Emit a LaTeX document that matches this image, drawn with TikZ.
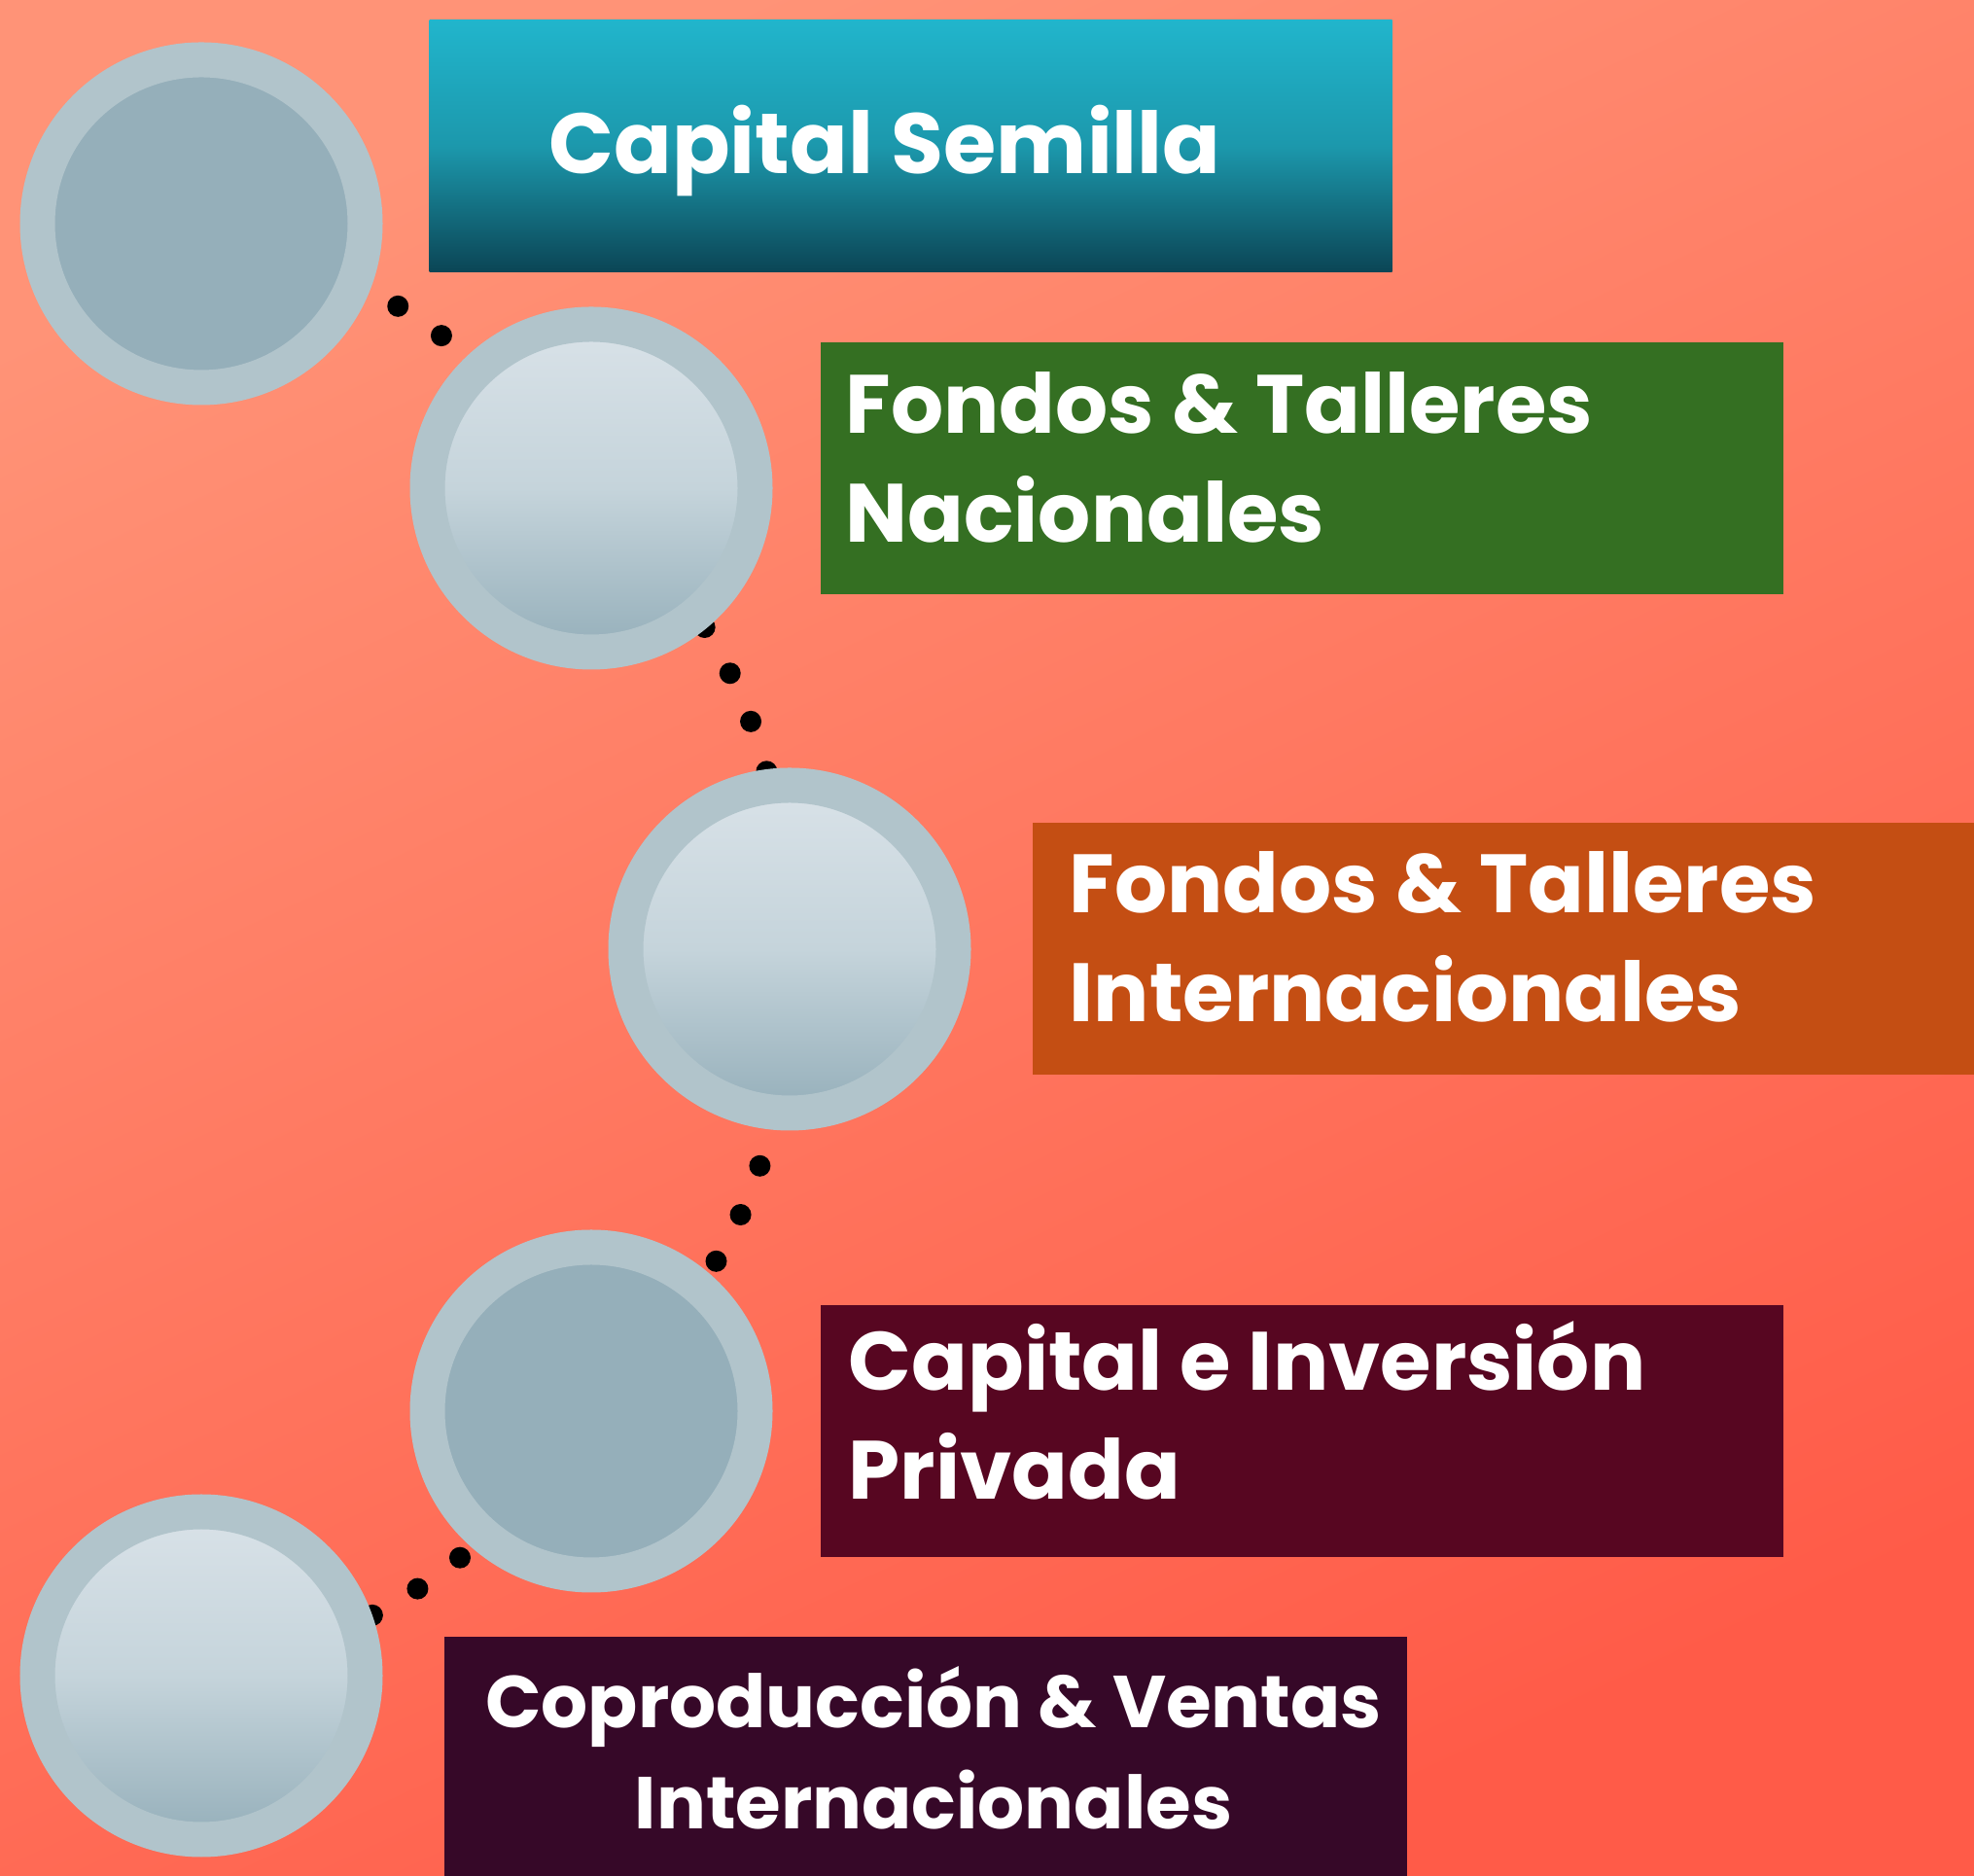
\documentclass[tikz,border=0pt]{standalone}
\usepackage{fontspec}
\setmainfont{Poppins}
\usetikzlibrary{positioning}

\definecolor{bgtop}{HTML}{FF9377}
\definecolor{bgbot}{HTML}{FF5B48}
\definecolor{ringgray}{HTML}{B1C4CB}
\definecolor{coregray}{HTML}{95AFBA}
\definecolor{corelight}{HTML}{D9E2E8}
\definecolor{coremid}{HTML}{C5D4DB}
\definecolor{tealtop}{HTML}{21B5CC}
\definecolor{tealmid}{HTML}{1C98AC}
\definecolor{tealbot}{HTML}{0B4555}
\definecolor{leafgreen}{HTML}{346F22}
\definecolor{rust}{HTML}{C44E13}
\definecolor{wine}{HTML}{570621}
\definecolor{plum}{HTML}{360828}

\tikzset{
  bubble/.style={circle, draw=ringgray, line width=3.6mm, minimum size=33.7mm, inner sep=0pt},
  flat/.style={fill=coregray},
  glossy/.style={top color=corelight, bottom color=coregray, middle color=coremid},
  panel/.style={rectangle, anchor=north west, minimum width=9.9cm, minimum height=2.59cm, inner sep=0pt},
  caption/.style={text=white, font=\bfseries\fontsize{24.2}{31.9}\selectfont, inner sep=0pt, align=left},
  trail/.style={line width=2.2mm, line cap=round, dash pattern=on 0pt off 5.4mm},
}

\begin{document}
\begin{tikzpicture}

	\useasboundingbox (0,0) rectangle (20.30,19.29);
	\shade[top color=bgtop, bottom color=bgbot, shading angle=25] (0,0) rectangle (20.30,19.29);

	\coordinate (p1) at (2.07,16.99);
	\coordinate (p2) at (6.08,14.27);
	\coordinate (p3) at (8.12,9.53);
	\coordinate (p4) at (6.08,4.78);
	\coordinate (p5) at (2.07,2.06);

	% dotted trail behind the stops
	\foreach \a/\b/\bnd/\ph in {p1/p2/18/5.0mm, p2/p3/22/3.1mm, p3/p4/24/4.4mm, p4/p5/21/1.3mm}
		\draw[trail, dash phase=\ph] (\a) to[bend left=\bnd] (\b);

	\node[bubble, flat]   (c1) at (p1) {};
	\node[bubble, glossy] (c2) at (p2) {};
	\node[bubble, glossy] (c3) at (p3) {};
	\node[bubble, flat]   (c4) at (p4) {};
	\node[bubble, glossy] (c5) at (p5) {};

	\node[panel, top color=tealtop, bottom color=tealbot, middle color=tealmid] (b1) at (4.41,19.09) {};
	\node[panel, fill=leafgreen] (b2) at (8.43,15.78) {};
	\node[panel, fill=rust]      (b3) at (10.61,10.84) {};
	\node[panel, fill=wine]      (b4) at (8.43,5.88) {};
	\node[panel, fill=plum]      (b5) at (4.56,2.47) {};

	\node[caption, anchor=base west, font=\bfseries\fontsize{25}{31.9}\selectfont] (t1) at (5.64,17.50) {Capital Semilla};
	\node[caption, anchor=base west] (t2) at (8.69,13.71) {Fondos \& Talleres\\Nacionales};
	\node[caption, anchor=base west] (t3) at (10.99,8.78) {Fondos \& Talleres\\Internacionales};
	\node[caption, anchor=base west] (t4) at (8.72,3.87) {Capital e Inversión\\Privada};
	\node[caption, align=center, anchor=base, font=\bfseries\fontsize{21.5}{29.6}\selectfont] (t5) at (9.60,0.48) {Coproducción \& Ventas\\Internacionales};

\end{tikzpicture}
\end{document}
